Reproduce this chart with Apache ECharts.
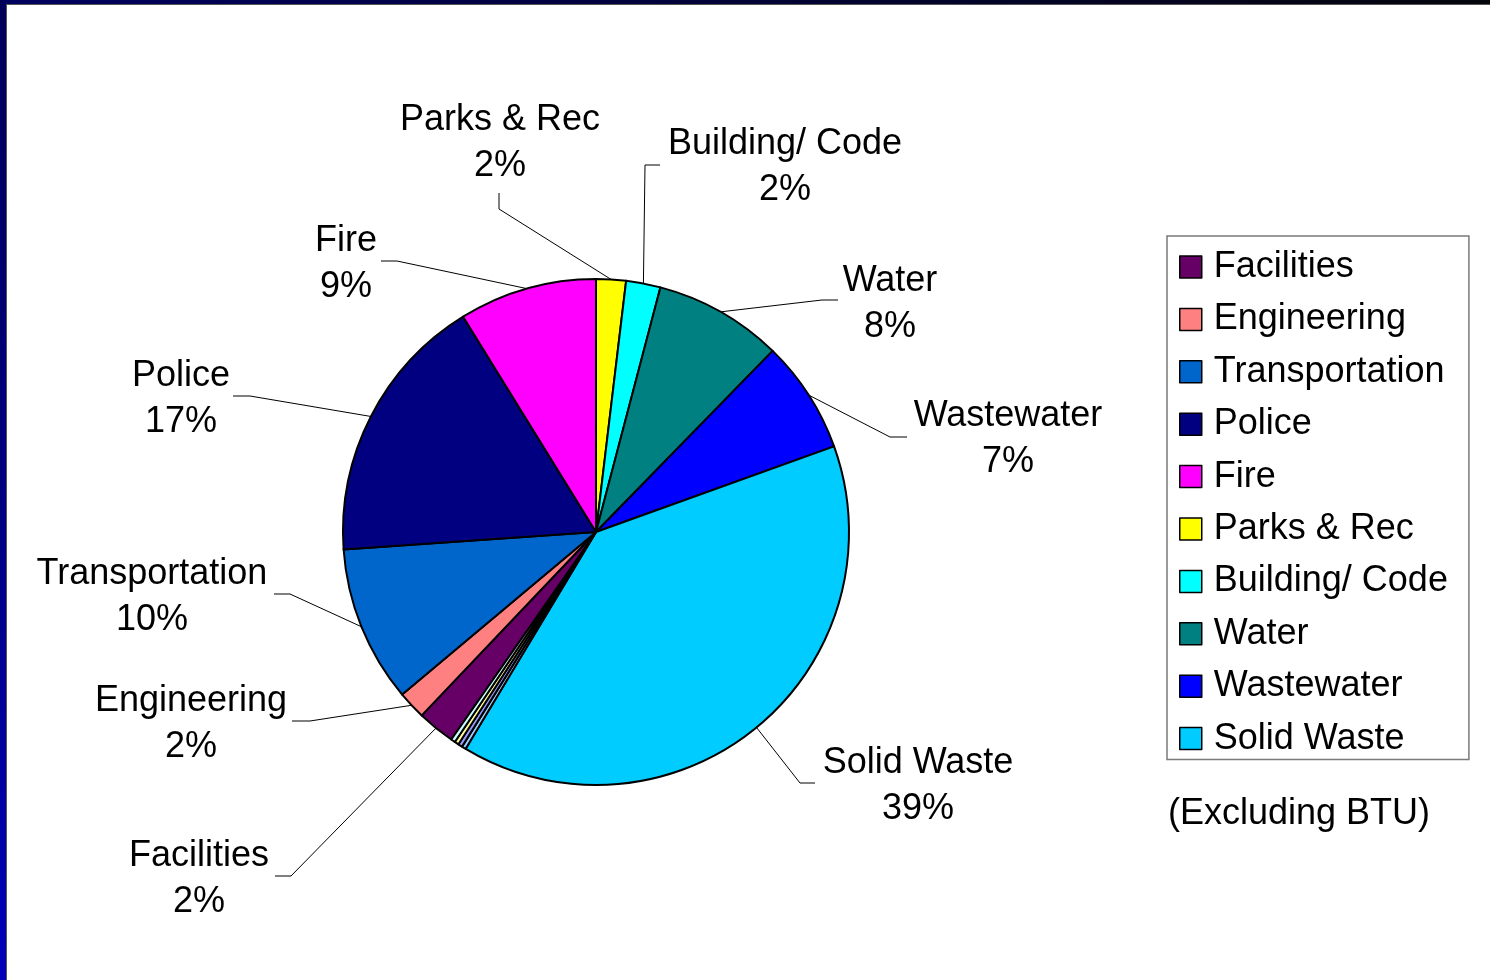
<!DOCTYPE html>
<html>
<head>
<meta charset="utf-8">
<script src="https://cdn.jsdelivr.net/npm/echarts@6/dist/echarts.min.js"></script>
<style>
  html, body { margin: 0; padding: 0; background: #ffffff; }
  #chart { width: 1490px; height: 980px; }
</style>
</head>
<body>
<div id="chart"></div>
<script>
// ---- data ----
const categories = ['Facilities', 'Engineering', 'Transportation', 'Police', 'Fire',
  'Parks & Rec', 'Building/ Code', 'Water', 'Wastewater', 'Solid Waste'];
const values = [2.4, 1.8, 10.0, 17.3, 8.8, 1.9, 2.2, 8.2, 7.2, 39.1];
// tiny unlabeled slices (not in legend)
const smallNames = ['Other A', 'Other B', 'Other C', 'Other D'];
const smallValues = [0.27, 0.27, 0.27, 0.27];
const noteText = '(Excluding BTU)';

// ---- styles ----
const colors = ['#660066', '#FF8080', '#0066CC', '#000080', '#FF00FF',
  '#FFFF00', '#00FFFF', '#008080', '#0000FF', '#00CCFF'];
const smallColors = ['#99CCFF', '#9999FF', '#FFFF99', '#CCFFFF'];

// label placement (layout): label centre, elbow and end of leader line
const labelPlace = [
  { c: [199, 879], elbow: [291, 876], end: [275, 876] },
  { c: [191, 724], elbow: [310, 721], end: [292, 721] },
  { c: [152, 597], elbow: [290, 594], end: [274, 594] },
  { c: [181, 399], elbow: [250, 396], end: [233, 396] },
  { c: [346, 264], elbow: [397, 261], end: [381, 261] },
  { c: [500, 143], elbow: [499, 209], end: [499, 193] },
  { c: [785, 167], elbow: [645, 165], end: [660, 165] },
  { c: [890, 304], elbow: [822, 300], end: [838, 300] },
  { c: [1008, 439], elbow: [890, 437], end: [907, 437] },
  { c: [918, 786], elbow: [800, 783], end: [815, 783] }
];

const FONT = "'Liberation Sans', Arial, sans-serif";

const total = values.reduce((a, b) => a + b, 0) + smallValues.reduce((a, b) => a + b, 0);
const beforeTop = values.slice(0, 5).reduce((a, b) => a + b, 0);
const startAngle = 90 + 360 * beforeTop / total;

const pieData = categories.map((n, i) => ({
  name: n, value: values[i], itemStyle: { color: colors[i] }
})).concat(smallNames.map((n, i) => ({
  name: n, value: smallValues[i], itemStyle: { color: smallColors[i] },
  label: { show: false }, labelLine: { show: false }
})));

const chart = echarts.init(document.getElementById('chart'), null, { renderer: 'canvas' });

chart.setOption({
  backgroundColor: '#ffffff',
  animation: false,
  legend: {
    data: categories,
    orient: 'vertical',
    left: 1167,
    top: 236,
    padding: [11, 21, 1, 12],
    itemGap: 12.4,
    itemWidth: 22,
    itemHeight: 22,
    icon: 'rect',
    borderColor: '#7a7a7a',
    borderWidth: 1.5,
    selectedMode: false,
    itemStyle: { borderColor: '#000', borderWidth: 1.5 },
    textStyle: { fontFamily: FONT, fontSize: 36, color: '#000', lineHeight: 40, padding: [0, 0, 0, 7] }
  },
  graphic: [
    { type: 'rect', shape: { x: 0, y: 0, width: 1490, height: 4 },
      style: { fill: new echarts.graphic.LinearGradient(0, 0, 1, 0, [
        { offset: 0, color: '#000060' }, { offset: 1, color: '#05050c' }]) } },
    { type: 'rect', shape: { x: 0, y: 0, width: 6, height: 980 },
      style: { fill: new echarts.graphic.LinearGradient(0, 0, 0, 1, [
        { offset: 0, color: '#000058' }, { offset: 0.5, color: '#000080' }, { offset: 1, color: '#0000b8' }]) } },
    { type: 'line', shape: { x1: 6.5, y1: 4, x2: 6.5, y2: 980 }, style: { stroke: '#555', lineWidth: 1 } },
    { type: 'line', shape: { x1: 6, y1: 4.5, x2: 1490, y2: 4.5 }, style: { stroke: '#555', lineWidth: 1 } },
    { type: 'text', left: 1168, top: 796,
      style: { text: noteText, font: '36px ' + FONT, fill: '#000' } }
  ],
  series: [{
    type: 'pie',
    center: [596, 532],
    radius: 253,
    startAngle: startAngle,
    clockwise: true,
    avoidLabelOverlap: false,
    percentPrecision: 2,
    data: pieData,
    itemStyle: { borderColor: '#000', borderWidth: 2 },
    label: {
      show: true,
      position: 'outside',
      fontFamily: FONT,
      fontSize: 36,
      lineHeight: 46,
      color: '#000',
      align: 'center',
      formatter: p => p.name + '\n' + Math.round(p.percent) + '%'
    },
    labelLine: { show: true, length: 20, length2: 15, lineStyle: { color: '#000', width: 1 } },
    labelLayout: function (params) {
      const lp = labelPlace[params.dataIndex];
      if (!lp || !params.labelLinePoints) return {};
      return {
        x: lp.c[0], y: lp.c[1], align: 'center', verticalAlign: 'middle',
        labelLinePoints: [params.labelLinePoints[0], lp.elbow, lp.end]
      };
    },
    emphasis: { disabled: true }
  }]
});
</script>
</body>
</html>
